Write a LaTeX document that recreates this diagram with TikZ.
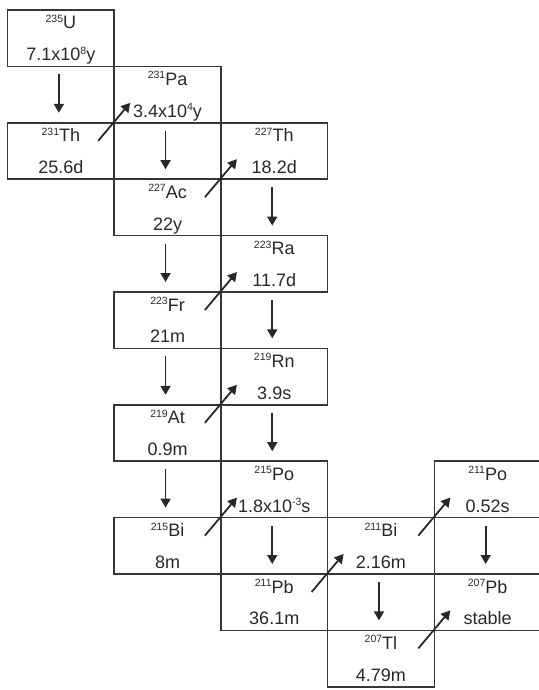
\documentclass[tikz,border=0pt]{standalone}
\usepackage{fontspec}
\setmainfont{Liberation Sans}
\usetikzlibrary{arrows.meta,calc}
\definecolor{inkgrey}{RGB}{40,40,40}
\definecolor{linegrey}{RGB}{55,55,55}
\newcommand{\iso}[2]{\raisebox{6.5pt}{\fontsize{10.5}{11}\selectfont #1}#2}
\newcommand{\pwr}[1]{\raisebox{6.5pt}{\fontsize{10.5}{11}\selectfont #1}}
\tikzset{
  nuc/.style={rectangle, draw=linegrey, line width=1.5pt, minimum width=106.7pt, minimum height=56.4pt, inner sep=0pt, outer sep=0pt},
  sym/.style={font=\fontsize{18}{20}\selectfont, text=inkgrey, anchor=base, inner sep=0pt},
  life/.style={sym},
  arr/.style={-{Triangle[length=9pt,width=10pt]}, line width=1.8pt, draw=inkgrey},
  arra/.style={arr, shorten <=8pt, shorten >=10pt},
  arrb/.style={arr},
}

\begin{document}
\begin{tikzpicture}[x=1pt,y=-1pt]
  \useasboundingbox (0,0) rectangle (538,690);
  % nuclide boxes: name/column/row/symbol/half-life
  \foreach \n/\col/\row/\el/\hl in {
      u235/0/0/{\iso{235}{U}}/{7.1x10\pwr{8}y},
      th231/0/2/{\iso{231}{Th}}/{25.6d},
      pa231/1/1/{\iso{231}{Pa}}/{3.4x10\pwr{4}y},
      ac227/1/3/{\iso{227}{Ac}}/{22y},
      th227/2/2/{\iso{227}{Th}}/{18.2d},
      ra223/2/4/{\iso{223}{Ra}}/{11.7d},
      fr223/1/5/{\iso{223}{Fr}}/{21m},
      rn219/2/6/{\iso{219}{Rn}}/{3.9s},
      at219/1/7/{\iso{219}{At}}/{0.9m},
      po215/2/8/{\iso{215}{Po}}/{1.8x10\pwr{-3}s},
      bi215/1/9/{\iso{215}{Bi}}/{8m},
      pb211/2/10/{\iso{211}{Pb}}/{36.1m},
      bi211/3/9/{\iso{211}{Bi}}/{2.16m},
      po211/4/8/{\iso{211}{Po}}/{0.52s},
      pb207/4/10/{\iso{207}{Pb}}/{stable},
      tl207/3/11/{\iso{207}{Tl}}/{4.79m}}{
    \node[nuc] (\n) at ({7.5+106.7*(\col+0.5)},{10+56.4*(\row+0.5)}) {};
    \node[sym] (\n-s) at ($(\n.north)+(0,19)$) {\el};
    \node[life] (\n-h) at ($(\n.south)+(0,-5.5)$) {\hl};
  }
  % alpha decays
  \foreach \a/\b in {u235/th231,pa231/ac227,th227/ra223,ac227/fr223,ra223/rn219,fr223/at219,rn219/po215,at219/bi215,po215/pb211,bi211/tl207,po211/pb207}
    \draw[arra] ([xshift=-2pt]\a.south) -- ([xshift=-2pt]\b.north);
  % beta decays
  \foreach \a/\b in {th231/pa231,ac227/th227,fr223/ra223,at219/rn219,bi215/po215,pb211/bi211,bi211/po211,tl207/pb207}
    \draw[arrb] ($(\a.north east)+(-16,18)$) -- ($(\b.south west)+(16,-20)$);
\end{tikzpicture}
\end{document}
